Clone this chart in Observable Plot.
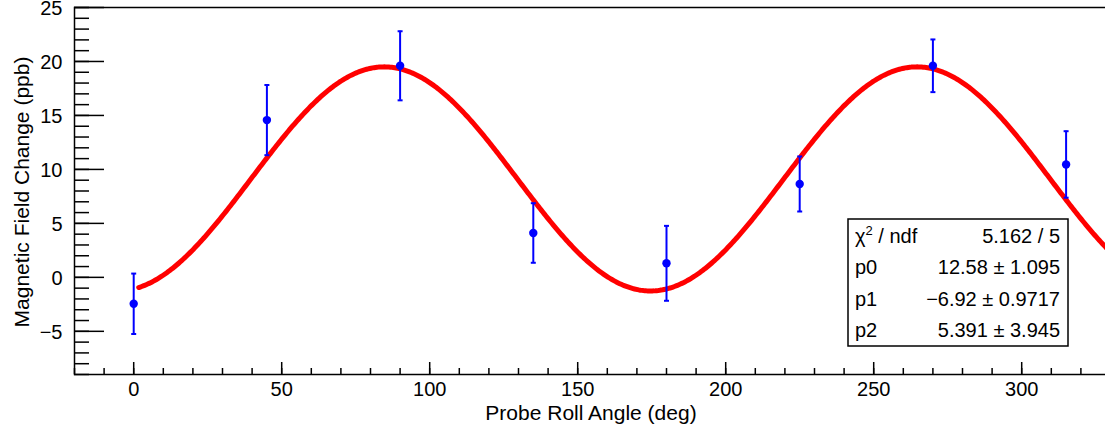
<!DOCTYPE html>
<html><head><meta charset="utf-8">
<script src="https://cdn.jsdelivr.net/npm/d3@7"></script>
<script src="https://cdn.jsdelivr.net/npm/@observablehq/plot@0.6"></script>
<style>
html,body{margin:0;padding:0;background:#fff;overflow:hidden;}
#chart{width:1105px;height:430px;overflow:hidden;}
</style></head><body><div id="chart"></div>
<script>
// ---- data ----
const angles = [0, 45, 90, 135, 180, 225, 270, 315];
const fieldChange = [-2.45, 14.57, 19.6, 4.11, 1.30, 8.65, 19.6, 10.46];
const errors = [2.8, 3.25, 3.2, 2.76, 3.47, 2.55, 2.44, 3.08];
const fitP0 = 12.58, fitP1 = -6.92, fitP2 = 5.391;
const fitRange = [1.7, 345];
const statLabels = ["χ", "p0", "p1", "p2"];
const statValues = ["5.162 / 5", "12.58 ± 1.095", "−6.92 ± 0.9717", "5.391 ± 3.945"];
const xMajorTicks = [0, 50, 100, 150, 200, 250, 300];
const xMinorTicks = d3.range(-20, 331, 10);
const yMajorTicks = [-5, 0, 5, 10, 15, 20, 25];
const yMinorTicks = d3.range(-9, 26, 1);
const xTitle = "Probe Roll Angle (deg)";
const yTitle = "Magnetic Field Change (ppb)";

// ---- tables ----
const points = angles.map((a, i) => ({x: a, y: fieldChange[i], e: errors[i]}));
const caps = points.flatMap(d => [{x: d.x, y: d.y - d.e}, {x: d.x, y: d.y + d.e}]);
const fitFn = x => { const c = Math.cos((x + fitP2) * Math.PI / 180); return fitP0 + fitP1 * (3 * c * c - 1); };
const curve = d3.range(fitRange[0], fitRange[1], 0.5).map(x => ({x, y: fitFn(x)}));

const capSymbol = {draw(ctx, size) { ctx.moveTo(-2.5, 0); ctx.lineTo(2.5, 0); }};
const FONT = "'Liberation Sans', Arial, Helvetica, sans-serif";
const BLUE = "#0000ff", RED = "#ff0000";

const plot = Plot.plot({
  width: 1105, height: 430,
  marginLeft: 74, marginRight: -5, marginTop: 7, marginBottom: 56,
  x: {domain: [-20, 330], label: null},
  y: {domain: [-9, 25], label: null},
  style: {fontFamily: FONT, fontSize: "20px", color: "#000", background: "#fff", overflow: "visible"},
  marks: [
    Plot.line(curve, {x: "x", y: "y", stroke: RED, strokeWidth: 5, clip: true}),
    Plot.ruleX(points, {x: "x", y1: d => d.y - d.e, y2: d => d.y + d.e, stroke: BLUE, strokeWidth: 2}),
    Plot.dot(caps, {x: "x", y: "y", symbol: capSymbol, stroke: BLUE, strokeWidth: 2, r: 3}),
    Plot.dot(points, {x: "x", y: "y", r: 4.2, fill: BLUE, stroke: null}),
    Plot.frame({stroke: "#000", strokeWidth: 1.5}),
    Plot.axisY({ticks: yMinorTicks, anchor: "left", tickSize: 15, dx: 15, text: null, label: null, strokeWidth: 1.5}),
    Plot.axisY({ticks: yMajorTicks, anchor: "left", tickSize: 30, dx: 30, text: null, label: null, strokeWidth: 1.5}),
    Plot.axisY({ticks: yMajorTicks, anchor: "left", tickSize: 0, tickPadding: 12, dy: 1, label: null, fontSize: 20, tickFormat: d => d < 0 ? "−" + (-d) : String(d)}),
    Plot.axisX({ticks: xMinorTicks, anchor: "bottom", tickSize: 6, dy: -6, text: null, label: null, strokeWidth: 1.5}),
    Plot.axisX({ticks: xMajorTicks, anchor: "bottom", tickSize: 12, dy: -12, text: null, label: null, strokeWidth: 1.5}),
    Plot.axisX({ticks: xMajorTicks, anchor: "bottom", tickSize: 0, tickPadding: 7, label: null, fontSize: 20})
  ]
});

const svg = d3.select(plot);
// axis titles
svg.append("text").attr("x", 591).attr("y", 420).attr("text-anchor", "middle")
  .attr("font-family", FONT).attr("font-size", 21).attr("fill", "#000").text(xTitle);
svg.append("text").attr("transform", "translate(29,192) rotate(-90)").attr("text-anchor", "middle")
  .attr("font-family", FONT).attr("font-size", 21).attr("fill", "#000").text(yTitle);

// stats box
const box = svg.append("g").attr("text-anchor", "start");
box.append("rect").attr("x", 848).attr("y", 219).attr("width", 220).attr("height", 127)
  .attr("fill", "#fff").attr("stroke", "#000").attr("stroke-width", 1.5);
statLabels.forEach((lab, i) => {
  const yb = 243 + i * 31.3;
  const t = box.append("text").attr("x", 855).attr("y", yb).attr("text-anchor", "start")
    .attr("font-family", FONT).attr("font-size", 20).attr("fill", "#000");
  if (i === 0) {
    t.append("tspan").text(lab);
    t.append("tspan").attr("font-size", 13).attr("dy", -8).text("2");
    t.append("tspan").attr("dy", 8).text(" / ndf");
  } else t.text(lab);
  box.append("text").attr("x", 1060).attr("y", yb).attr("text-anchor", "end").attr("font-family", FONT)
    .attr("font-size", 20).attr("fill", "#000").text(statValues[i]);
});

document.getElementById("chart").appendChild(plot);
</script></body></html>
